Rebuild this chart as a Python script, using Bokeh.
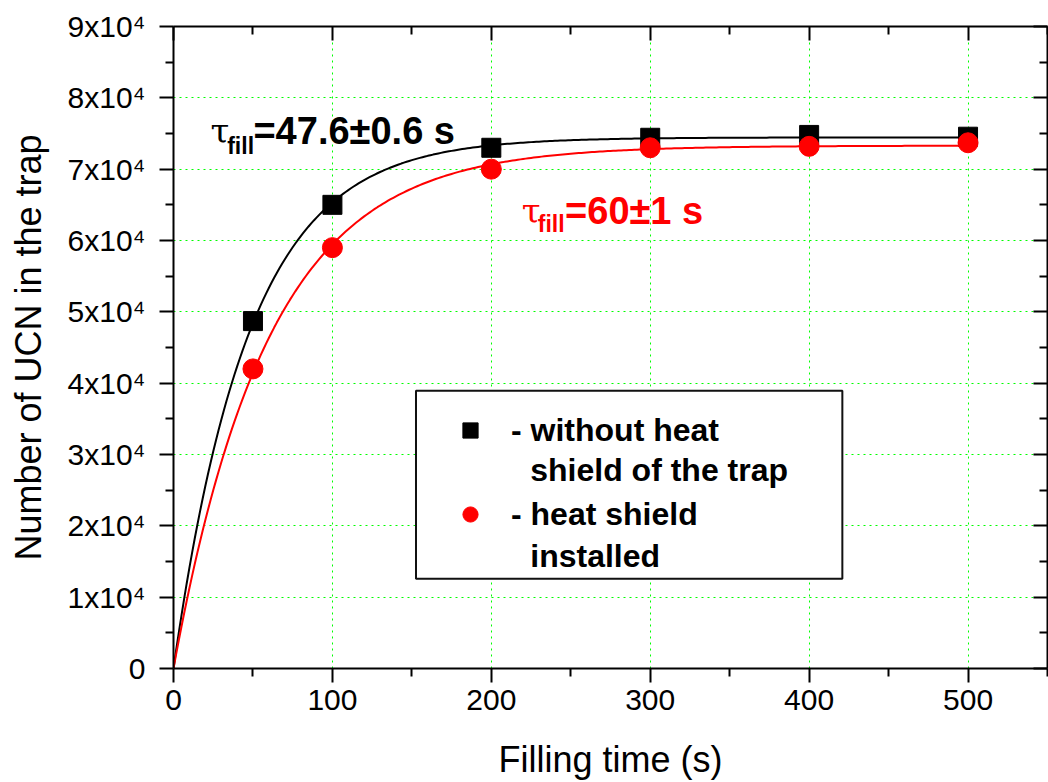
import numpy as np
from bokeh.plotting import figure
from bokeh.models import (LinearAxis, FixedTicker, Range1d, Label, BoxAnnotation,
                          Legend, LegendItem)
from bokeh.embed import file_html
from bokeh.resources import INLINE

# ---------------- data ----------------
fill_time = [50, 100, 200, 300, 400, 500]
ucn_without_shield = [48700, 65000, 73000, 74400, 74800, 74550]
ucn_with_shield = [42000, 59000, 70000, 73000, 73200, 73700]

# exponential fit parameters (tau from the annotations, plateau from the picture)
tau_without_shield = 47.6
amp_without_shield = 74450
tau_with_shield = 60.0
amp_with_shield = 73300
fit_t_max = 500

x_ticks = [0, 100, 200, 300, 400, 500]
x_minor_ticks = [50, 150, 250, 350, 450, 550]
y_ticks = [0, 10000, 20000, 30000, 40000, 50000, 60000, 70000, 80000, 90000]
y_minor_ticks = [5000, 15000, 25000, 35000, 45000, 55000, 65000, 75000, 85000]
y_tick_labels = ["0", "1x10\u2074", "2x10\u2074", "3x10\u2074", "4x10\u2074",
                 "5x10\u2074", "6x10\u2074", "7x10\u2074", "8x10\u2074", "9x10\u2074"]

x_label = "Filling time (s)"
y_label = "Number of UCN in the trap"
legend_labels = ["- without heat", "- heat shield"]
legend_cont = ["shield of the trap", "installed"]
ann_black = ["\u03c4", "fill", "=47.6\u00b10.6 s"]
ann_red = ["\u03c4", "fill", "=60\u00b11 s"]

# ---------------- styling ----------------
FONT = "Liberation Sans"
GREEN = "#00ff00"
RED = "#ff0000"

p = figure(width=1048, height=782, output_backend="svg", toolbar_location=None,
           x_range=Range1d(0, 550), y_range=Range1d(0, 90000),
           min_border_left=173, min_border_right=1, min_border_top=26,
           min_border_bottom=114)
p.outline_line_color = None
p.background_fill_color = "white"
p.border_fill_color = "white"

# grid
p.xgrid.ticker = FixedTicker(ticks=x_ticks)
p.ygrid.ticker = FixedTicker(ticks=y_ticks)
for g in (p.xgrid, p.ygrid):
    g.grid_line_color = GREEN
    g.grid_line_dash = "2 4"
    g.grid_line_width = 1

# main axes
xa = p.xaxis[0]
ya = p.yaxis[0]
xa.ticker = FixedTicker(ticks=x_ticks, minor_ticks=x_minor_ticks)
ya.ticker = FixedTicker(ticks=y_ticks, minor_ticks=y_minor_ticks)
ya.major_label_overrides = {t: lab for t, lab in zip(y_ticks, y_tick_labels)}
xa.axis_label = x_label
ya.axis_label = y_label
for ax in (xa, ya):
    ax.axis_line_width = 2
    ax.axis_line_color = "black"
    ax.major_tick_line_width = 2
    ax.minor_tick_line_width = 2
    ax.major_tick_line_color = "black"
    ax.minor_tick_line_color = "black"
    ax.major_tick_in = 0
    ax.major_tick_out = 14
    ax.minor_tick_in = 0
    ax.minor_tick_out = 8
    ax.major_label_text_font = FONT
    ax.major_label_text_font_size = "30px"
    ax.major_label_text_color = "black"
    ax.axis_label_text_font = FONT
    ax.axis_label_text_font_size = "36px"
    ax.axis_label_text_font_style = "normal"
    ax.axis_label_text_color = "black"
xa.major_label_standoff = 7
ya.major_label_standoff = 14
xa.axis_label_standoff = 26
ya.axis_label_standoff = 16

# mirrored axes (top / right) with inward ticks
for loc, ticks, minors in (("above", x_ticks, x_minor_ticks), ("right", y_ticks, y_minor_ticks)):
    ax = LinearAxis(ticker=FixedTicker(ticks=ticks, minor_ticks=minors))
    ax.axis_line_width = 2
    ax.axis_line_color = "black"
    ax.major_tick_line_width = 2
    ax.minor_tick_line_width = 2
    ax.major_tick_in = 14
    ax.major_tick_out = 0
    ax.minor_tick_in = 8
    ax.minor_tick_out = 0
    ax.major_label_text_font_size = "0px"
    ax.major_label_standoff = 0
    ax.major_label_text_alpha = 0
    p.add_layout(ax, loc)

# fit curves
t_fit = np.linspace(0, fit_t_max, 301)
p.line(t_fit, amp_without_shield * (1 - np.exp(-t_fit / tau_without_shield)),
       line_color="black", line_width=2)
p.line(t_fit, amp_with_shield * (1 - np.exp(-t_fit / tau_with_shield)),
       line_color=RED, line_width=2)

# data points
r_sq = p.scatter(fill_time, ucn_without_shield, marker="square", size=19,
                 fill_color="black", line_color="black")
r_ci = p.scatter(fill_time, ucn_with_shield, marker="circle", size=20,
                 fill_color=RED, line_color=RED)

# ---------------- legend ----------------
box = BoxAnnotation(left=152.6, right=420.9, top=38920, bottom=12590,
                    fill_color="white", fill_alpha=1.0,
                    line_color="#111111", line_alpha=1.0, line_width=2)
p.add_layout(box)

legend = Legend(items=[LegendItem(label=legend_labels[0], renderers=[r_sq]),
                       LegendItem(label=legend_labels[1], renderers=[r_ci])],
                location=(264, 135), orientation="vertical",
                glyph_width=66, glyph_height=38, label_standoff=8, spacing=46,
                padding=0, margin=0, border_line_color=None,
                background_fill_alpha=0,
                label_text_font=FONT, label_text_font_size="32px",
                label_text_font_style="bold", label_text_color="black")
p.add_layout(legend)

for txt, yv in zip(legend_cont, [27780, 15750]):
    p.add_layout(Label(x=224.5, y=yv, text=txt, text_font=FONT,
                       text_font_size="32px", text_font_style="bold",
                       text_color="black", text_baseline="alphabetic",
                       text_align="left"))

# ---------------- tau annotations ----------------
def tau_annotation(parts, color, x0, xsub, xmain, ybase, ysub):
    p.add_layout(Label(x=x0, y=ybase, text=parts[0], text_font="DejaVu Serif",
                       text_font_size="34px", text_color=color,
                       text_baseline="alphabetic"))
    p.add_layout(Label(x=xsub, y=ysub, text=parts[1], text_font=FONT,
                       text_font_size="23px", text_font_style="bold",
                       text_color=color, text_baseline="alphabetic"))
    p.add_layout(Label(x=xmain, y=ybase, text=parts[2], text_font=FONT,
                       text_font_size="38px", text_font_style="bold",
                       text_color=color, text_baseline="alphabetic"))

tau_annotation(ann_black, "black", 23.3, 33.8, 50.3, 75290, 73290)
tau_annotation(ann_red, RED, 219.2, 229.2, 246.4, 64190, 62370)

open("out.html", "w").write(file_html(p, INLINE))
